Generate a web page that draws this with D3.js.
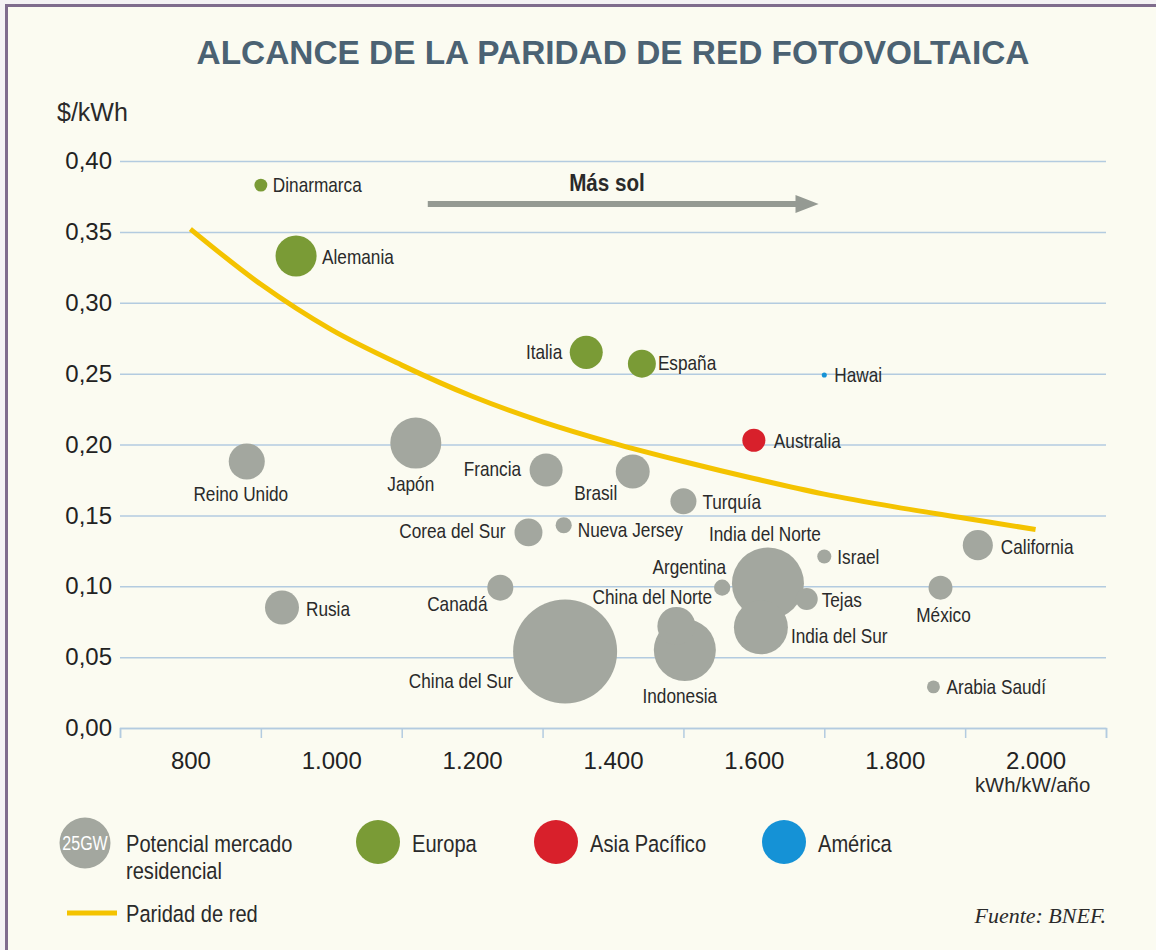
<!DOCTYPE html>
<html>
<head>
<meta charset="utf-8">
<script src="https://cdn.jsdelivr.net/npm/d3@7"></script>
<style>
    body { margin: 0; background: #f4f2f4; }
    text { font-family: "Liberation Sans", Arial, sans-serif; fill: #2a2a2a; }
</style>
</head>
<body>
<div id="chart-area"></div>
<script>
/*
*    paridad de red fotovoltaica
*/

// data
var countries = ["Dinarmarca", "Alemania", "Italia", "España", "Hawai", "Australia",
    "Reino Unido", "Japón", "Francia", "Brasil", "Turquía", "Corea del Sur", "Nueva Jersey",
    "India del Norte", "Israel", "California", "Argentina", "Tejas", "México", "Canadá",
    "Rusia", "China del Norte", "India del Sur", "China del Sur", "Indonesia", "Arabia Saudí"];
var irradiation = [900, 950, 1362, 1441, 1700, 1600,
    880, 1120, 1305, 1428, 1500, 1280, 1330,
    1620, 1700, 1918, 1555, 1675, 1865, 1240,
    930, 1490, 1610, 1332, 1502, 1855];
var price = [0.383, 0.333, 0.265, 0.257, 0.249, 0.203,
    0.188, 0.201, 0.182, 0.181, 0.160, 0.138, 0.143,
    0.102, 0.121, 0.129, 0.099, 0.091, 0.099, 0.099,
    0.085, 0.072, 0.071, 0.054, 0.055, 0.029];
var potentialGW = [1.6, 16.2, 10.5, 7.5, 0.25, 5.1,
    12.5, 25, 10.5, 11.1, 6.5, 7.5, 2.5,
    49.8, 1.9, 8.7, 2.5, 4.7, 5.5, 6.5,
    11.1, 13.9, 28, 104, 37, 1.6];
var region = ["Europa", "Europa", "Europa", "Europa", "América", "Asia Pacífico",
    "Resto", "Resto", "Resto", "Resto", "Resto", "Resto", "Resto",
    "Resto", "Resto", "Resto", "Resto", "Resto", "Resto", "Resto",
    "Resto", "Resto", "Resto", "Resto", "Resto", "Resto"];

// curva de paridad de red
var parityX = [800, 900, 1000, 1100, 1200, 1300, 1400, 1500, 1600, 1700, 1800, 1900, 2000];
var parityY = [0.352, 0.313, 0.281, 0.256, 0.234, 0.216, 0.201, 0.188, 0.176, 0.165, 0.156, 0.148, 0.140];

var yTicks = [0, 0.05, 0.10, 0.15, 0.20, 0.25, 0.30, 0.35, 0.40];
var xLabels = [800, 1000, 1200, 1400, 1600, 1800, 2000];
var xTicks = [700, 900, 1100, 1300, 1500, 1700, 1900, 2100];

var legendRegions = ["Europa", "Asia Pacífico", "América"];
var legendSizeGW = 25;

// label placement: anchor, dx, dy
var labelPlace = {
    "Dinarmarca": ["start", 12, 0], "Alemania": ["start", 26, 1], "Italia": ["end", -24, -1],
    "España": ["start", 16, -1], "Hawai": ["start", 10, 0], "Australia": ["start", 20, 0],
    "Reino Unido": ["middle", -6, 32], "Japón": ["middle", -5, 41], "Francia": ["end", -25, -1],
    "Brasil": ["middle", -37, 21], "Turquía": ["start", 19, 0], "Corea del Sur": ["end", -23, -2],
    "Nueva Jersey": ["start", 14, 4], "India del Norte": ["middle", -3, -50], "Israel": ["start", 13, 0],
    "California": ["start", 23, 1], "Argentina": ["end", 4, -21], "Tejas": ["start", 15, 1],
    "México": ["middle", 3, 27], "Canadá": ["middle", -43, 16], "Rusia": ["start", 24, 1],
    "China del Norte": ["middle", -24, -29], "India del Sur": ["start", 30, 8],
    "China del Sur": ["end", -52, 29], "Indonesia": ["middle", -5, 46], "Arabia Saudí": ["start", 13, 0]
};

var colors = d3.scaleOrdinal()
    .domain(["Europa", "Asia Pacífico", "América", "Resto"])
    .range(["#7a9b36", "#d8202b", "#1592d6", "#a3a79f"]);

var svg = d3.select("#chart-area").append("svg")
    .attr("width", 1156)
    .attr("height", 950);

// condensed text: regular face squeezed horizontally
function condensed(parent, px, py, str, fontSize, squeeze) {
    return parent.append("text")
        .attr("transform", "translate(" + px + "," + py + ") scale(" + squeeze + ",1)")
        .attr("dy", "0.35em")
        .attr("font-size", fontSize)
        .text(str);
}

// fondo y marco
svg.append("rect")
    .attr("x", 6).attr("y", 5)
    .attr("width", 1150).attr("height", 945)
    .attr("fill", "#fbfbf1");
svg.append("path")
    .attr("d", "M6.5,950V5.5H1156")
    .attr("fill", "none")
    .attr("stroke", "#7f6c8d")
    .attr("stroke-width", 3);

svg.append("text")
    .attr("x", 613).attr("y", 64)
    .attr("text-anchor", "middle")
    .attr("font-weight", "bold")
    .attr("font-size", 33.4)
    .style("fill", "#4b6273")
    .text("ALCANCE DE LA PARIDAD DE RED FOTOVOLTAICA");

var x = d3.scaleLinear()
    .domain([700, 2100])
    .range([120, 1106]);

var y = d3.scaleLinear()
    .domain([0, 0.40])
    .range([728, 161]);

var size = d3.scaleSqrt()
    .domain([0, legendSizeGW])
    .range([0, 25.5]);

var es = d3.formatLocale({decimal: ",", thousands: ".", grouping: [3], currency: ["$", ""]});

// rejilla y eje Y
var yAxis = svg.append("g")
    .attr("transform", "translate(120,0)")
    .call(d3.axisLeft(y)
        .tickValues(yTicks)
        .tickSize(-986)
        .tickPadding(8)
        .tickFormat(es.format(".2f")));
yAxis.select(".domain").remove();
yAxis.selectAll("line")
    .attr("stroke", "#b3cbe0")
    .attr("stroke-width", 1.5);
yAxis.selectAll("text")
    .attr("font-size", 24)
    .style("fill", "#222");

svg.append("text")
    .attr("x", 57).attr("y", 121)
    .attr("font-size", 25)
    .text("$/kWh");

// eje X
var xAxis = svg.append("g")
    .attr("transform", "translate(0,728)")
    .call(d3.axisBottom(x)
        .tickValues(xTicks)
        .tickSize(10)
        .tickSizeOuter(10)
        .tickFormat(""));
xAxis.selectAll("line, path")
    .attr("stroke", "#b3cbe0")
    .attr("stroke-width", 1.5);

var xLab = svg.append("g")
    .attr("transform", "translate(0,728)")
    .call(d3.axisBottom(x)
        .tickValues(xLabels)
        .tickSize(0)
        .tickPadding(24)
        .tickFormat(es.format(",")));
xLab.select(".domain").remove();
xLab.selectAll("text")
    .attr("font-size", 24)
    .style("fill", "#222");

condensed(svg, x(2000) - 3, 785, "kWh/kW/año", 21, 0.97)
    .attr("text-anchor", "middle");

// Más sol
condensed(svg, 607, 183, "Más sol", 24, 0.86)
    .attr("text-anchor", "middle")
    .attr("font-weight", "bold");
svg.append("line")
    .attr("x1", x(1137)).attr("x2", x(1662))
    .attr("y1", 204).attr("y2", 204)
    .attr("stroke", "#959a93")
    .attr("stroke-width", 6);
svg.append("path")
    .attr("d", "M" + (x(1662) - 2) + ",195L" + x(1692) + ",204L" + (x(1662) - 2) + ",213Z")
    .attr("fill", "#959a93");

// curva de paridad
var parity = parityX.map((d, i) => [d, parityY[i]]);
var line = d3.line()
    .x((d) => { return x(d[0]); })
    .y((d) => { return y(d[1]); })
    .curve(d3.curveMonotoneX);

svg.append("path")
    .datum(parity)
    .attr("d", line)
    .attr("fill", "none")
    .attr("stroke", "#f4c300")
    .attr("stroke-width", 5);

// burbujas
var points = countries.map((d, i) => {
    return {name: d, x: irradiation[i], y: price[i], gw: potentialGW[i], region: region[i]};
});
points.sort((a, b) => b.gw - a.gw);

svg.append("g").selectAll("circle")
    .data(points)
    .enter()
    .append("circle")
        .attr("cx", (d) => { return x(d.x); })
        .attr("cy", (d) => { return y(d.y); })
        .attr("r", (d) => { return size(d.gw); })
        .attr("fill", (d) => { return colors(d.region); });

svg.append("g").selectAll("text")
    .data(points)
    .enter()
    .append("text")
        .attr("transform", (d) => {
            var p = labelPlace[d.name];
            return "translate(" + (x(d.x) + p[1]) + "," + (y(d.y) + p[2]) + ") scale(0.82,1)";
        })
        .attr("dy", "0.35em")
        .attr("text-anchor", (d) => { return labelPlace[d.name][0]; })
        .attr("font-size", 21)
        .text((d) => { return d.name; });

// leyenda
var legend = svg.append("g");
legend.append("circle")
    .attr("cx", 85).attr("cy", 843)
    .attr("r", size(legendSizeGW))
    .attr("fill", colors("Resto"));
condensed(legend, 85, 843, legendSizeGW + "GW", 20, 0.8)
    .attr("text-anchor", "middle")
    .style("fill", "#ffffff");
condensed(legend, 126, 843, "Potencial mercado", 24.5, 0.82);
condensed(legend, 126, 870, "residencial", 24.5, 0.82);

var legendX = [378, 556, 784];
legendRegions.forEach((d, i) => {
    legend.append("circle")
        .attr("cx", legendX[i]).attr("cy", 842)
        .attr("r", 22)
        .attr("fill", colors(d));
    condensed(legend, legendX[i] + 34, 843, d, 24.5, 0.82);
});

legend.append("line")
    .attr("x1", 67).attr("x2", 117)
    .attr("y1", 913).attr("y2", 913)
    .attr("stroke", "#f4c300")
    .attr("stroke-width", 5);
condensed(legend, 126, 913, "Paridad de red", 24.5, 0.82);

svg.append("text")
    .attr("x", 1106).attr("y", 915).attr("dy", "0.35em")
    .attr("text-anchor", "end")
    .style("font-family", "'Liberation Serif', 'Times New Roman', serif")
    .style("font-style", "italic")
    .attr("font-size", 22)
    .text("Fuente: BNEF.");
</script>
</body>
</html>
